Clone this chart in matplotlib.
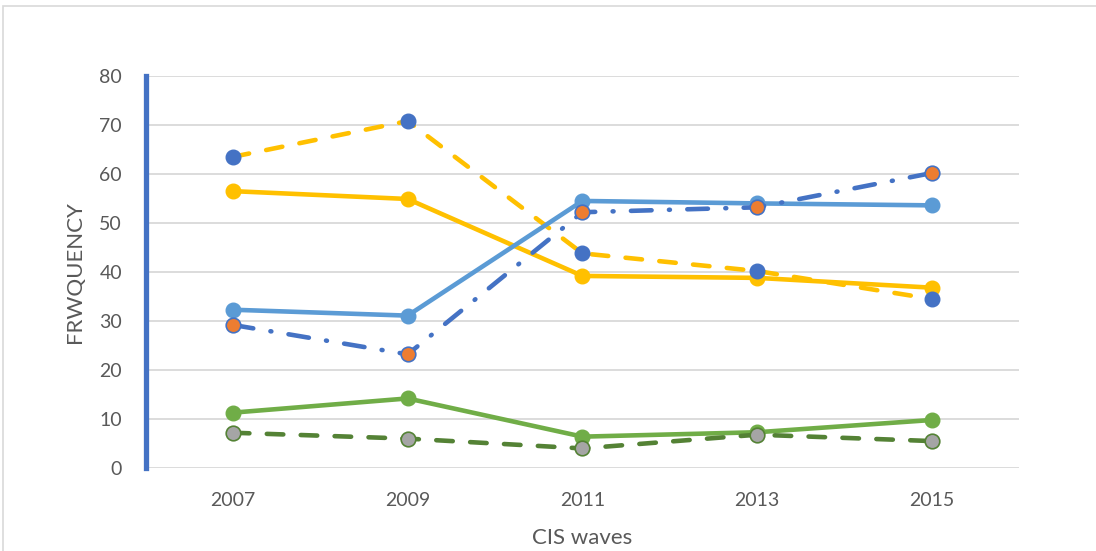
import matplotlib.pyplot as plt
from matplotlib.patches import Rectangle

plt.rcParams['font.family'] = ['Lato', 'DejaVu Sans']

waves = [2007, 2009, 2011, 2013, 2015]

# series values
yellow_solid = [56.5, 54.9, 39.2, 38.8, 36.8]
yellow_dashed = [63.5, 70.8, 43.8, 40.2, 34.5]
blue_solid = [32.3, 31.1, 54.5, 54.0, 53.6]
blue_dashdot = [29.2, 23.2, 52.2, 53.2, 60.2]
green_solid = [11.3, 14.2, 6.4, 7.3, 9.8]
green_dashed = [7.2, 6.0, 4.0, 6.8, 5.5]

yticks = [0, 10, 20, 30, 40, 50, 60, 70, 80]

fig = plt.figure(figsize=(10.96, 5.51), dpi=100)
ax = fig.add_axes([0.1328, 0.1506, 0.7972, 0.7115])

# outer chart border (cropped on right/bottom)
fig.patches.append(Rectangle((3 / 1096, -0.1), 1.2, 1 - 6 / 551 + 0.1,
                             transform=fig.transFigure, fill=False,
                             edgecolor='#D9D9D9', lw=1.2))

lw = 3.3
ms = 10.5

ax.plot(waves, yellow_solid, color='#FFC000', lw=lw, marker='o', ms=ms,
        mfc='#FFC000', mec='#FFC000', solid_capstyle='round', zorder=3)
ax.plot(waves, yellow_dashed, color='#FFC000', lw=lw, ls=(0, (3.6, 3.8)),
        dash_capstyle='round', marker='o', ms=ms, mfc='#4472C4',
        mec='#4472C4', zorder=4)
ax.plot(waves, blue_solid, color='#5B9BD5', lw=lw, marker='o', ms=ms,
        mfc='#5B9BD5', mec='#5B9BD5', zorder=5)
ax.plot(waves, blue_dashdot, color='#4472C4', lw=lw, ls=(0, (4.5, 3.8, 0.2, 3.8)),
        dash_capstyle='round', marker='o', ms=ms, mfc='#ED7D31',
        mec='#4472C4', mew=1.2, zorder=6)
ax.plot(waves, green_solid, color='#70AD47', lw=lw, marker='o', ms=ms,
        mfc='#70AD47', mec='#70AD47', zorder=7)
ax.plot(waves, green_dashed, color='#548235', lw=lw, ls=(0, (3.6, 3.8)),
        dash_capstyle='round', marker='o', ms=ms, mfc='#A5A5A5',
        mec='#548235', mew=1.2, zorder=8)

ax.set_xlim(2006, 2016)
ax.set_ylim(0, 80)
ax.set_xticks(waves)
ax.set_yticks(yticks)
ax.tick_params(length=0, labelsize=14, colors='#595959')
ax.tick_params(axis='x', pad=17)
ax.tick_params(axis='y', pad=17)

ax.grid(axis='y', color='#D9D9D9', lw=1.3)
ax.set_axisbelow(True)

for side in ['top', 'right', 'bottom']:
    ax.spines[side].set_visible(False)
ax.spines['left'].set_color('#4472C4')
ax.spines['left'].set_linewidth(3.8)
ax.spines['left'].set_zorder(9)

ax.set_xlabel('CIS waves', fontsize=16, color='#595959', labelpad=14)
ax.set_ylabel('FRWQUENCY', fontsize=16, color='#595959', labelpad=10)

fig.savefig('out.png', dpi=100)
